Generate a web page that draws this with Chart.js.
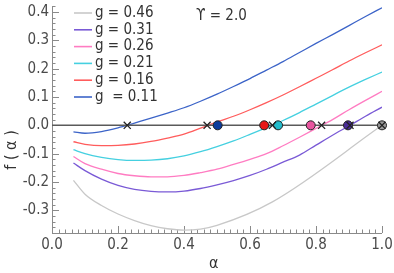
<!DOCTYPE html>
<html><head><meta charset="utf-8">
<script src="https://cdn.jsdelivr.net/npm/chart.js@4"></script>
<style>html,body{margin:0;padding:0;background:#fff}#c{display:block}</style>
</head><body>
<canvas id="c" width="394" height="273"></canvas>
<script>
// ---- data ----
const alphaGrid = [0.065,0.1,0.15,0.2,0.25,0.3,0.35,0.4,0.45,0.5,0.55,0.6,0.65,0.7,0.75,0.8,0.85,0.9,0.95,1.0];
const f_g011 = [-0.023,-0.028,-0.022,-0.009,0.008,0.025,0.043,0.062,0.085,0.110,0.137,0.165,0.195,0.225,0.257,0.289,0.320,0.352,0.384,0.415];
const f_g016 = [-0.058,-0.067,-0.072,-0.071,-0.066,-0.057,-0.045,-0.031,-0.010,0.012,0.032,0.055,0.080,0.107,0.136,0.166,0.196,0.227,0.256,0.284];
const f_g021 = [-0.086,-0.100,-0.113,-0.121,-0.124,-0.123,-0.118,-0.108,-0.093,-0.075,-0.055,-0.032,-0.008,0.017,0.045,0.075,0.105,0.135,0.162,0.188];
const f_g026 = [-0.110,-0.135,-0.155,-0.170,-0.178,-0.182,-0.182,-0.177,-0.167,-0.155,-0.138,-0.120,-0.100,-0.072,-0.042,-0.011,0.020,0.055,0.088,0.120];
const f_g031 = [-0.133,-0.160,-0.190,-0.212,-0.226,-0.233,-0.235,-0.232,-0.223,-0.210,-0.195,-0.177,-0.155,-0.130,-0.105,-0.070,-0.035,-0.002,0.032,0.064];
const alphaG046 = [0.065,0.1,0.15,0.2,0.25,0.3,0.35,0.4,0.45,0.5,0.668,1.0];
const f_g046 = [-0.194,-0.243,-0.283,-0.313,-0.336,-0.354,-0.365,-0.370,-0.366,-0.353,-0.270,0.0];

const seriesLabels = ['g = 0.46','g = 0.31','g = 0.26','g = 0.21','g = 0.16','g  = 0.11'];
const lineColors   = ['#c8c8c8','#7a5ad6','#ff7cc2','#45d0e0','#ff5c5c','#3c64c8'];

const crossAlpha  = [0.228,0.470,0.668,0.817,0.903,1.0];
const circleAlpha = [0.502,0.643,0.685,0.784,0.897,1.0];
const circleColors = ['#0c3c9c','#e81818','#22bccc','#e8559f','#4a2c98','#9a9a9a'];

const xTicks = [0.0,0.2,0.4,0.6,0.8,1.0];
const xTickLabels = ['0.0','0.2','0.4','0.6','0.8','1.0'];
const yTicks = [-0.3,-0.2,-0.1,0.0,0.1,0.2,0.3,0.4];
const yTickLabels = ['-0.3','-0.2','-0.1','0.0','0.1','0.2','0.3','0.4'];
const xTitle = 'α';
const yTitle = 'f ( α )';
const gammaText = 'ϒ = 2.0';

// ---- build datasets ----
const FONT = "'Liberation Sans Narrow','DejaVu Sans Condensed','Liberation Sans',sans-serif";
const pts = (xs, ys) => xs.map((x, i) => ({x, y: ys[i]}));
const curves = [
  pts(alphaG046, f_g046), pts(alphaGrid, f_g031), pts(alphaGrid, f_g026),
  pts(alphaGrid, f_g021), pts(alphaGrid, f_g016), pts(alphaGrid, f_g011)
];
const datasets = curves.map((d, i) => ({
  label: seriesLabels[i], data: d, borderColor: lineColors[i], borderWidth: 1.3,
  pointRadius: 0, cubicInterpolationMode: 'monotone', fill: false, order: 10 + i
}));
datasets.push({
  label: 'zero', data: [{x: 0, y: 0}, {x: 1, y: 0}], borderColor: '#5a5a5a',
  borderWidth: 1.5, pointRadius: 0, order: 5
});
datasets.push({
  label: 'circles', data: circleAlpha.map(a => ({x: a, y: 0})), showLine: false,
  pointStyle: 'circle', pointRadius: 4.5, backgroundColor: circleColors,
  borderColor: '#222', borderWidth: 1, order: 2, clip: false
});
datasets.push({
  label: 'crosses', data: crossAlpha.map(a => ({x: a, y: 0})), showLine: false,
  pointStyle: 'crossRot', pointRadius: 5, borderColor: '#222', borderWidth: 1.3, order: 1, clip: false
});

const axesPlugin = {
  id: 'idlAxes',
  beforeDatasetsDraw(chart) {
    const {ctx, scales: {x, y}} = chart;
    const x0 = x.getPixelForValue(0), x1 = x.getPixelForValue(1);
    const yb = y.getPixelForValue(y.min), yt = y.getPixelForValue(y.max);
    ctx.save();
    ctx.strokeStyle = '#8a8a8a';
    ctx.lineWidth = 1;
    ctx.beginPath();
    ctx.moveTo(x0 + 0.5, yt); ctx.lineTo(x0 + 0.5, yb + 0.5);
    ctx.moveTo(x0, yb + 0.5); ctx.lineTo(x1, yb + 0.5);
    for (let k = 0; k <= 50; k++) {
      const v = k * 0.02;
      const px = Math.round(x.getPixelForValue(v)) + 0.5;
      const len = (k % 10 === 0) ? 7 : 3.5;
      ctx.moveTo(px, yb); ctx.lineTo(px, yb - len);
    }
    for (let k = -19; k <= 21; k++) {
      const v = k * 0.02;
      const py = Math.round(y.getPixelForValue(v)) + 0.5;
      const len = (k % 5 === 0) ? 7 : 3.5;
      ctx.moveTo(x0, py); ctx.lineTo(x0 + len, py);
    }
    ctx.stroke();
    ctx.fillStyle = '#4a4a4a';
    ctx.font = '15px ' + FONT;
    ctx.textAlign = 'center'; ctx.textBaseline = 'top';
    xTicks.forEach((v, i) => ctx.fillText(xTickLabels[i], x.getPixelForValue(v), yb + 5));
    ctx.textAlign = 'right'; ctx.textBaseline = 'middle';
    yTicks.forEach((v, i) => ctx.fillText(yTickLabels[i], x0 - 3, y.getPixelForValue(v)));
    ctx.fillStyle = '#333';
    ctx.font = '16px ' + FONT;
    ctx.textAlign = 'center'; ctx.textBaseline = 'middle';
    ctx.fillText(xTitle, x.getPixelForValue(0.49), yb + 31);
    ctx.save();
    ctx.translate(12, 150); ctx.rotate(-Math.PI / 2);
    ctx.fillText(yTitle, 0, 0);
    ctx.restore();
    ctx.font = '15px ' + FONT;
    ctx.textAlign = 'left';
    seriesLabels.forEach((lab, i) => {
      const ly = 13 + i * 16.8;
      ctx.strokeStyle = lineColors[i]; ctx.lineWidth = 1.6;
      ctx.beginPath(); ctx.moveTo(74, ly); ctx.lineTo(92, ly); ctx.stroke();
      ctx.fillStyle = '#333';
      ctx.fillText(lab, 95, ly);
    });
    ctx.fillText(gammaText, 196, 16);
    ctx.restore();
  }
};

new Chart(document.getElementById('c'), {
  type: 'line',
  data: {datasets},
  options: {
    responsive: false, devicePixelRatio: 1, animation: false,
    layout: {padding: {left: 52, right: 12, top: 4, bottom: 40}},
    scales: {
      x: {type: 'linear', min: 0, max: 1.0, display: false},
      y: {type: 'linear', min: -0.38, max: 0.42, display: false}
    },
    plugins: {legend: {display: false}, tooltip: {enabled: false}}
  },
  plugins: [axesPlugin]
});
</script>
</body></html>
